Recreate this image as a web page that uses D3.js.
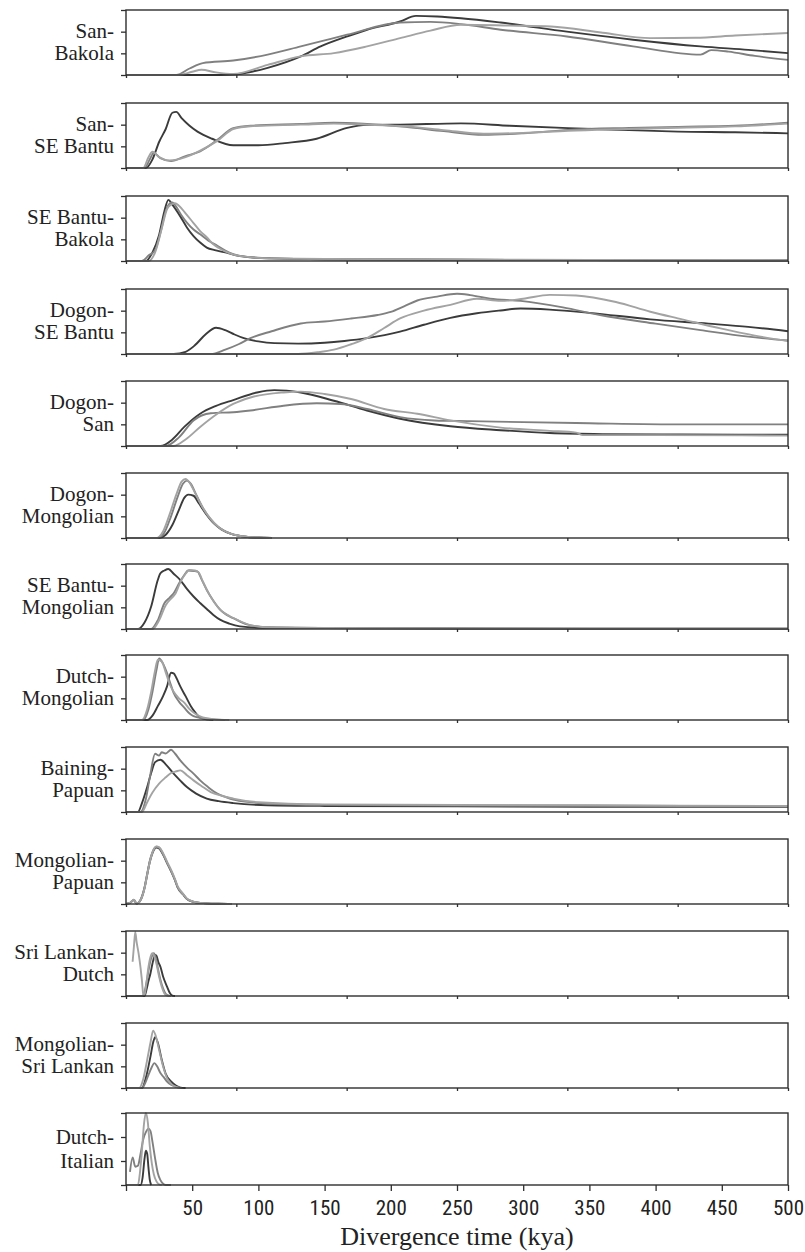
<!DOCTYPE html>
<html>
<head>
<meta charset="utf-8">
<script src="https://cdn.jsdelivr.net/npm/d3@7"></script>
<style>
  html, body { margin: 0; padding: 0; background: #fff; }
  svg { display: block; }
</style>
</head>
<body>
<svg id="chart" width="805" height="1252"></svg>
<script>
// ---------- DATA ----------
const panelLabels = [
  ["San-", "Bakola"],
  ["San-", "SE Bantu"],
  ["SE Bantu-", "Bakola"],
  ["Dogon-", "SE Bantu"],
  ["Dogon-", "San"],
  ["Dogon-", "Mongolian"],
  ["SE Bantu-", "Mongolian"],
  ["Dutch-", "Mongolian"],
  ["Baining-", "Papuan"],
  ["Mongolian-", "Papuan"],
  ["Sri Lankan-", "Dutch"],
  ["Mongolian-", "Sri Lankan"],
  ["Dutch-", "Italian"]
];

const xTickLabels = [0, 50, 100, 150, 200, 250, 300, 350, 400, 450, 500];
const axisTitle = "Divergence time (kya)";

// each series: per panel, list of [kya, relative density (0..3 = panel height)]
const darkSeries = [
  [[0,0],[70,0],[81,0.02],[95,0.15],[107,0.33],[132,0.86],[147,1.32],[167,1.78],[182,2.09],[207,2.47],[219,2.73],[235,2.7],[253,2.62],[283,2.42],[333,2.0],[383,1.63],[434,1.32],[470,1.16],[500,1.01]],
  [[0,0],[15,0],[20,0.4],[25,1.2],[30,1.8],[35,2.55],[38,2.59],[42,2.3],[48,1.95],[54,1.68],[65,1.35],[81,1.05],[100,1.05],[120,1.15],[144,1.35],[167,1.85],[182,1.99],[207,2.0],[253,2.06],[290,1.95],[334,1.84],[380,1.75],[417,1.68],[460,1.65],[500,1.6]],
  [[0,0],[15,0],[20,0.4],[25,1.2],[29,2.3],[32,2.82],[35,2.6],[41,2.06],[46,1.55],[51,1.15],[56,0.85],[61,0.62],[67,0.5],[74,0.41],[84,0.25],[94,0.17],[110,0.12],[150,0.08],[250,0.06],[350,0.04],[500,0.02]],
  [[0,0],[36,0],[45,0.1],[52,0.4],[60,0.9],[68,1.21],[75,1.1],[82,0.9],[89,0.73],[100,0.58],[112,0.5],[130,0.48],[150,0.52],[165,0.6],[182,0.73],[207,1.03],[225,1.35],[245,1.67],[265,1.88],[283,2.01],[298,2.1],[320,2.05],[350,1.9],[396,1.6],[440,1.4],[470,1.25],[500,1.05]],
  [[0,0],[26,0],[35,0.3],[44,0.88],[56,1.49],[68,1.85],[81,2.12],[99,2.47],[112,2.58],[132,2.47],[157,2.09],[182,1.64],[207,1.26],[245,0.91],[283,0.73],[320,0.6],[360,0.55],[420,0.53],[500,0.52]],
  [[0,0],[25,0],[30,0.15],[35,0.6],[40,1.3],[44,1.85],[47,2.0],[51,1.95],[55,1.6],[60,1.15],[66,0.7],[72,0.4],[80,0.18],[90,0.06],[100,0.02],[110,0]],
  [[0,0],[9,0],[14,0.3],[19,1.04],[24,2.26],[26,2.57],[29,2.7],[32,2.77],[36,2.55],[41,2.26],[46,1.85],[51,1.5],[56,1.2],[61,0.92],[66,0.65],[71,0.43],[78,0.25],[86,0.12],[100,0.06],[150,0.04],[250,0.02],[500,0.01]],
  [[0,0],[16,0],[20,0.2],[24,0.64],[28,1.1],[31,1.55],[34,2.18],[36,2.15],[38,1.95],[41,1.55],[45,1.1],[49,0.64],[53,0.3],[56,0.11],[62,0.02],[66,0]],
  [[0,0],[9,0],[12,0.4],[16,1.15],[19,1.8],[22,2.3],[26,2.41],[30,2.2],[36,1.77],[41,1.45],[46,1.15],[53,0.85],[61,0.62],[70,0.5],[81,0.41],[107,0.31],[150,0.28],[250,0.26],[350,0.24],[500,0.24]],
  [[0,0],[3,0.05],[6,0.18],[8,0.02],[11,0.18],[14,0.74],[16,1.35],[18,1.95],[20,2.35],[23,2.6],[25,2.56],[28,2.28],[31,1.9],[34,1.52],[37,1.1],[39,0.77],[43,0.45],[46,0.23],[51,0.1],[56,0.05],[70,0.01],[80,0]],
  [[0,0],[14,0],[15.5,0.3],[17,0.7],[18.5,1.05],[20,1.5],[22,1.89],[23,1.85],[24.5,1.55],[26,1.35],[28,0.9],[31,0.43],[33,0.15],[35,0.02],[37,0]],
  [[0,0],[12,0],[15,0.47],[17,1.0],[18.5,1.46],[20.5,2.1],[22,2.35],[24,2.1],[27,1.3],[30,0.65],[34,0.3],[38,0.1],[41,0.02],[45,0]],
  [[0,0],[11,0],[12.5,0.3],[14,1.1],[15,1.43],[16,1.3],[17,0.7],[18,0.2],[19,0]]
];

const mediumSeries = [
  [[0,0],[38,0],[48,0.3],[58,0.55],[81,0.67],[107,0.94],[132,1.32],[147,1.55],[167,1.86],[207,2.42],[230,2.45],[253,2.35],[283,2.09],[333,1.78],[383,1.32],[434,0.94],[442,1.15],[455,1.08],[475,0.88],[500,0.7]],
  [[0,0],[14,0],[18,0.4],[21,0.7],[26,0.45],[34,0.32],[45,0.55],[56,0.77],[69,1.3],[81,1.84],[94,1.95],[132,2.03],[157,2.09],[182,2.03],[211,1.9],[240,1.7],[270,1.53],[300,1.6],[334,1.76],[380,1.85],[417,1.9],[460,1.95],[500,2.09]],
  [[0,0],[12,0],[17,0.25],[22,0.5],[26,1.3],[30,2.3],[33,2.65],[35,2.7],[38,2.5],[42,2.1],[46,1.77],[51,1.45],[56,1.23],[62,0.95],[69,0.7],[75,0.48],[81,0.32],[90,0.2],[110,0.12],[150,0.08],[250,0.06],[350,0.04],[500,0.02]],
  [[0,0],[64,0],[75,0.2],[85,0.45],[94,0.73],[110,1.05],[132,1.41],[150,1.5],[170,1.64],[190,1.8],[200,1.94],[210,2.2],[220,2.47],[235,2.65],[250,2.78],[260,2.72],[275,2.55],[298,2.45],[330,2.15],[358,1.8],[400,1.4],[434,1.1],[470,0.8],[500,0.62]],
  [[0,0],[30,0],[40,0.4],[51,1.18],[64,1.51],[81,1.56],[94,1.64],[119,1.86],[144,1.97],[162,1.94],[182,1.71],[207,1.33],[233,1.18],[260,1.15],[300,1.1],[350,1.05],[420,1.0],[500,1.0]],
  [[0,0],[24,0],[29,0.25],[34,1.0],[39,1.9],[43,2.5],[46,2.65],[49,2.5],[53,2.0],[58,1.4],[64,0.85],[70,0.5],[78,0.22],[88,0.08],[100,0.02],[110,0]],
  [[0,0],[19,0],[24,0.4],[29,1.19],[33,1.45],[36,1.65],[40,2.1],[44,2.49],[47,2.7],[51,2.68],[54,2.65],[57,2.3],[61,1.8],[66,1.3],[71,0.89],[76,0.65],[81,0.5],[92,0.2],[107,0.08],[150,0.05],[250,0.03],[500,0.01]],
  [[0,0],[13,0],[17,0.5],[20,1.3],[23,2.3],[25,2.84],[28,2.6],[31,2.16],[34,1.6],[36,1.25],[40,0.85],[44,0.57],[48,0.3],[51,0.18],[58,0.08],[66,0.03],[75,0]],
  [[0,0],[11,0],[15,0.6],[18,1.6],[22,2.69],[25,2.6],[27,2.76],[30,2.7],[34,2.87],[37,2.7],[41,2.38],[46,2.05],[51,1.77],[56,1.46],[62,1.15],[69,0.85],[75,0.7],[81,0.57],[95,0.45],[107,0.38],[150,0.33],[250,0.3],[350,0.3],[420,0.28],[500,0.27]],
  [[0,0],[3,0.05],[6,0.2],[8,0.02],[11,0.2],[14,0.77],[16,1.4],[18,2.0],[20,2.4],[23,2.64],[25,2.6],[28,2.3],[31,1.9],[34,1.53],[37,1.1],[39,0.77],[43,0.45],[46,0.23],[51,0.1],[56,0.05],[70,0.01],[80,0]],
  [[0,0],[12,0],[14,0.2],[16,0.8],[18,1.5],[20,1.9],[21,1.98],[22.5,1.75],[24,1.3],[26,0.75],[28,0.35],[30,0.1],[33,0]],
  [[0,0],[12,0],[15,0.3],[17,0.61],[19,0.9],[21.5,1.15],[23.5,1.0],[26,0.69],[28.5,0.5],[31,0.3],[34,0.15],[38,0.05],[42,0]],
  [[3,0.55],[5,1.15],[7,0.76],[9,0.8],[11,1.3],[13,1.9],[15,2.2],[17,2.35],[18.5,2.25],[20,1.8],[22,1.1],[24,0.5],[26,0.2],[28,0.05],[30,0],[34,0]]
];

const lightSeries = [
  [[0,0],[40,0],[50,0.15],[57,0.24],[68,0.12],[81,0.05],[107,0.47],[132,0.86],[157,1.01],[182,1.32],[207,1.7],[230,2.05],[253,2.32],[290,2.28],[321,2.24],[360,1.95],[396,1.7],[430,1.72],[460,1.82],[500,1.94]],
  [[0,0],[13,0],[17,0.5],[20,0.75],[25,0.5],[33,0.35],[45,0.5],[56,0.8],[69,1.25],[81,1.8],[94,1.93],[132,2.0],[157,2.05],[182,2.0],[211,1.92],[240,1.75],[270,1.58],[300,1.62],[334,1.72],[380,1.8],[417,1.86],[460,1.92],[500,2.05]],
  [[0,0],[17,0],[22,0.4],[27,1.5],[31,2.4],[34,2.6],[37,2.67],[40,2.55],[45,2.2],[51,1.75],[56,1.38],[61,1.1],[66,0.77],[70,0.6],[74,0.47],[80,0.32],[90,0.2],[110,0.12],[150,0.1],[250,0.07],[350,0.05],[500,0.03]],
  [[0,0],[130,0],[145,0.08],[157,0.2],[170,0.45],[182,0.73],[195,1.2],[207,1.64],[225,2.0],[245,2.27],[265,2.55],[283,2.45],[300,2.55],[320,2.73],[340,2.7],[370,2.4],[396,1.95],[420,1.6],[449,1.18],[475,0.85],[500,0.6]],
  [[0,0],[36,0],[45,0.3],[56,0.88],[69,1.49],[81,1.94],[94,2.24],[119,2.47],[132,2.51],[150,2.4],[170,2.17],[195,1.71],[220,1.49],[245,1.18],[283,0.85],[320,0.7],[340,0.62],[345,0.5],[400,0.5],[500,0.48]],
  [[0,0],[23,0],[28,0.3],[33,1.1],[38,2.0],[42,2.6],[45,2.72],[48,2.55],[52,2.1],[57,1.5],[63,0.95],[70,0.5],[78,0.22],[88,0.08],[100,0.02],[110,0]],
  [[0,0],[20,0],[25,0.4],[30,1.1],[34,1.4],[37,1.6],[41,2.15],[45,2.55],[48,2.72],[52,2.7],[55,2.6],[58,2.2],[62,1.7],[67,1.2],[72,0.85],[78,0.6],[84,0.42],[94,0.18],[110,0.07],[150,0.05],[250,0.03],[500,0.01]],
  [[0,0],[12,0],[16,0.5],[19,1.3],[22,2.3],[24,2.78],[27,2.7],[30,2.2],[33,1.65],[36,1.3],[40,1.0],[44,0.8],[48,0.5],[52,0.3],[58,0.12],[66,0.04],[78,0]],
  [[0,0],[12,0],[16,0.45],[20,0.9],[25,1.31],[30,1.6],[34,1.8],[38,1.88],[41,1.92],[46,1.7],[51,1.46],[57,1.2],[64,0.92],[72,0.75],[81,0.62],[100,0.45],[150,0.35],[250,0.32],[350,0.3],[500,0.28]],
  [[0,0],[3,0.05],[6,0.2],[8,0.02],[11,0.18],[14,0.72],[16,1.35],[18,1.95],[20,2.38],[23,2.66],[25,2.62],[28,2.35],[31,1.95],[34,1.58],[37,1.15],[39,0.82],[43,0.48],[46,0.25],[51,0.11],[56,0.05],[70,0.01],[80,0]],
  [[5,1.58],[6,2.3],[7,2.96],[8,2.5],[9.5,1.97],[11,1.3],[12,0.74],[13,0.1],[14,0.05],[15,0.4],[17,1.35],[18.5,1.8],[20,1.97],[21.5,1.8],[23.5,1.35],[25,0.9],[27,0.43],[29,0.12],[31,0.02],[34,0]],
  [[0,0],[10,0],[13,0.4],[16,1.3],[18.5,2.1],[20.5,2.65],[22.5,2.4],[25,1.76],[28,1.0],[31,0.46],[34,0.2],[36,0.1],[40,0]],
  [[0,0],[9,0],[10.5,0.5],[12,1.4],[13.5,2.5],[15,3.0],[16.5,2.6],[18,1.6],[19.5,0.9],[21,0.45],[23,0.15],[25,0.03],[27,0]]
];

// ---------- LAYOUT ----------
const panelTops = [10, 103, 196, 289, 381, 473, 564, 655, 747, 839, 931, 1023, 1113];
const panelHeight = 65, lastPanelHeight = 72;
const plotLeft = 126, plotRight = 788;
const colors = { dark: "#3b3b3b", medium: "#808080", light: "#a3a3a3" };
const frameColor = "#2e2e2e";
const serifFont = '"Liberation Serif"';
const tickFont = '"Roboto Condensed"';

const svg = d3.select("#chart");
const x = d3.scaleLinear().domain([0, 500]).range([plotLeft, plotRight]);

const seriesDefs = [
  { data: darkSeries, color: colors.dark },
  { data: mediumSeries, color: colors.medium },
  { data: lightSeries, color: colors.light }
];

panelLabels.forEach((lab, i) => {
  const last = i === panelLabels.length - 1;
  const top = panelTops[i];
  const h = last ? lastPanelHeight : panelHeight;
  const bottom = top + h;
  const y = d3.scaleLinear().domain([0, 3]).range([bottom, top]);
  const g = svg.append("g");

  const line = d3.line().x(d => x(d[0])).y(d => y(d[1])).curve(d3.curveMonotoneX);
  seriesDefs.forEach(s => {
    g.append("path")
      .datum(s.data[i])
      .attr("d", line)
      .attr("fill", "none")
      .attr("stroke", s.color)
      .attr("stroke-width", 1.9)
      .attr("stroke-linejoin", "round");
  });

  g.append("rect")
    .attr("x", plotLeft).attr("y", top)
    .attr("width", plotRight - plotLeft).attr("height", h)
    .attr("fill", "none").attr("stroke", frameColor).attr("stroke-width", 1.4);

  const yAxis = d3.axisLeft(y).tickValues([0, 1, 2, 3]).tickSize(5).tickSizeOuter(0).tickFormat("");
  const ya = g.append("g").attr("transform", `translate(${plotLeft},0)`).call(yAxis);
  ya.select(".domain").remove();
  ya.selectAll("line").attr("stroke", frameColor).attr("stroke-width", 1.3);

  let xAxis;
  if (last) {
    xAxis = d3.axisBottom(x).tickValues(xTickLabels).tickSize(6).tickSizeOuter(0)
      .tickFormat(d => d === 0 ? "" : d);
  } else {
    xAxis = d3.axisBottom(x).tickValues(d3.range(0, 7).map(k => k * 500 / 6)).tickSize(3).tickSizeOuter(0).tickFormat("");
  }
  const xa = g.append("g").attr("transform", `translate(0,${bottom})`).call(xAxis);
  xa.attr("font-family", null).attr("font-size", null);
  xa.select(".domain").remove();
  xa.selectAll("line").attr("stroke", frameColor).attr("stroke-width", 1.3);
  xa.selectAll("text")
    .attr("fill", "#222")
    .style("font-family", tickFont)
    .style("font-size", "21px")
    .attr("dy", "1.0em");

  const t1 = y(2), t2 = y(1);
  [lab[0], lab[1]].forEach((txt, k) => {
    g.append("text")
      .attr("x", 114).attr("y", (k === 0 ? t1 : t2) + 6.5)
      .attr("text-anchor", "end")
      .style("font-family", serifFont)
      .style("font-size", "21px").attr("fill", "#222").text(txt);
  });
});

svg.append("text")
  .attr("x", (plotLeft + plotRight) / 2).attr("y", 1245)
  .attr("text-anchor", "middle")
  .style("font-family", serifFont)
  .style("font-size", "26px").attr("fill", "#222")
  .text(axisTitle);
</script>
</body>
</html>
